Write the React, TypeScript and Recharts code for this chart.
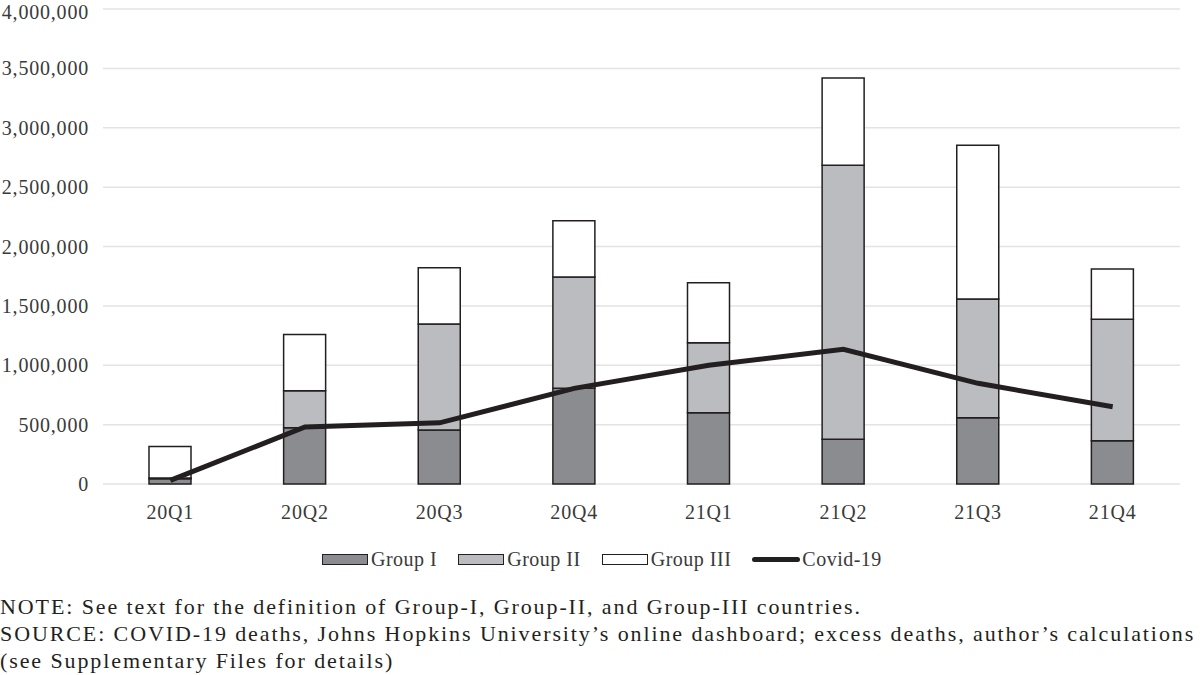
import { Bar, CartesianGrid, ComposedChart, Line, XAxis, YAxis } from 'recharts';

const quarters = ['20Q1', '20Q2', '20Q3', '20Q4', '21Q1', '21Q2', '21Q3', '21Q4'];
const groupOne = [45000, 474000, 455000, 806000, 600000, 376000, 558000, 365000];
const groupTwo = [5000, 312000, 892000, 937000, 590000, 2308000, 1000000, 1022000];
const groupThree = [265000, 474000, 474000, 474000, 505000, 736000, 1294000, 423000];
const covidDeaths = [30000, 480000, 515000, 805000, 1000000, 1135000, 848000, 650000];
const yTicks = [0, 500000, 1000000, 1500000, 2000000, 2500000, 3000000, 3500000, 4000000];

const legendItems = [
  { label: 'Group I', kind: 'box', fill: '#8b8c8f' },
  { label: 'Group II', kind: 'box', fill: '#bbbcbf' },
  { label: 'Group III', kind: 'box', fill: '#ffffff' },
  { label: 'Covid-19', kind: 'line', fill: '#231f20' },
];

const noteLines = [
  'NOTE: See text for the definition of Group-I, Group-II, and Group-III countries.',
  'SOURCE: COVID-19 deaths, Johns Hopkins University\u2019s online dashboard; excess deaths, author\u2019s calculations',
  '(see Supplementary Files for details)',
];

const FONT = '"Liberation Serif", "Times New Roman", serif';
const INK = '#231f20';

const chartData = quarters.map((quarter, i) => ({
  quarter,
  g1: groupOne[i],
  g2: groupTwo[i],
  g3: groupThree[i],
  covid: covidDeaths[i],
}));

const tickStyle = { fontSize: 20, fill: '#3a3a3a', fontFamily: FONT, letterSpacing: 0.8 };

export default function App() {
  return (
    <div
      style={{
        position: 'absolute',
        left: 0,
        top: 0,
        width: 1200,
        height: 675,
        background: '#ffffff',
        fontFamily: FONT,
        overflow: 'hidden',
      }}
    >
      <ComposedChart
        width={1200}
        height={530}
        data={chartData}
        margin={{ top: 9, right: 20, left: 0, bottom: 0 }}
        barSize={42}
      >
        <CartesianGrid vertical={false} stroke="#e3e3e3" strokeWidth={1.5} />
        <XAxis
          dataKey="quarter"
          axisLine={false}
          tickLine={false}
          tickSize={0}
          tickMargin={21}
          height={46}
          tick={tickStyle}
        />
        <YAxis
          domain={[0, 4000000]}
          ticks={yTicks}
          axisLine={false}
          tickLine={false}
          tickSize={0}
          tickMargin={14}
          width={103}
          tick={tickStyle}
          tickFormatter={(v: number) => v.toLocaleString('en-US')}
        />
        <Bar dataKey="g1" stackId="a" fill="#8b8c8f" stroke={INK} strokeWidth={1.5} isAnimationActive={false} />
        <Bar dataKey="g2" stackId="a" fill="#bbbcbf" stroke={INK} strokeWidth={1.5} isAnimationActive={false} />
        <Bar dataKey="g3" stackId="a" fill="#ffffff" stroke={INK} strokeWidth={1.5} isAnimationActive={false} />
        <Line
          dataKey="covid"
          type="linear"
          stroke={INK}
          strokeWidth={5}
          dot={false}
          isAnimationActive={false}
        />
      </ComposedChart>

      <div
        style={{
          position: 'absolute',
          top: 548,
          left: 322,
          display: 'flex',
          alignItems: 'center',
          gap: 21,
          fontSize: 20,
          color: '#3a3a3a',
          letterSpacing: 0.5,
        }}
      >
        {legendItems.map((item) => (
          <div key={item.label} style={{ display: 'flex', alignItems: 'center' }}>
            {item.kind === 'box' ? (
              <span
                style={{
                  display: 'inline-block',
                  width: 44,
                  height: 9,
                  background: item.fill,
                  border: `1.5px solid ${INK}`,
                  marginRight: 3,
                }}
              />
            ) : (
              <span
                style={{
                  display: 'inline-block',
                  width: 48,
                  height: 5,
                  background: item.fill,
                  borderRadius: 3,
                  marginRight: 2,
                }}
              />
            )}
            <span>{item.label}</span>
          </div>
        ))}
      </div>

      <div
        style={{
          position: 'absolute',
          top: 593,
          left: 0,
          fontSize: 22,
          lineHeight: '27px',
          letterSpacing: 1.9,
          color: '#231f20',
          whiteSpace: 'nowrap',
        }}
      >
        {noteLines.map((line) => (
          <div key={line}>{line}</div>
        ))}
      </div>
    </div>
  );
}
